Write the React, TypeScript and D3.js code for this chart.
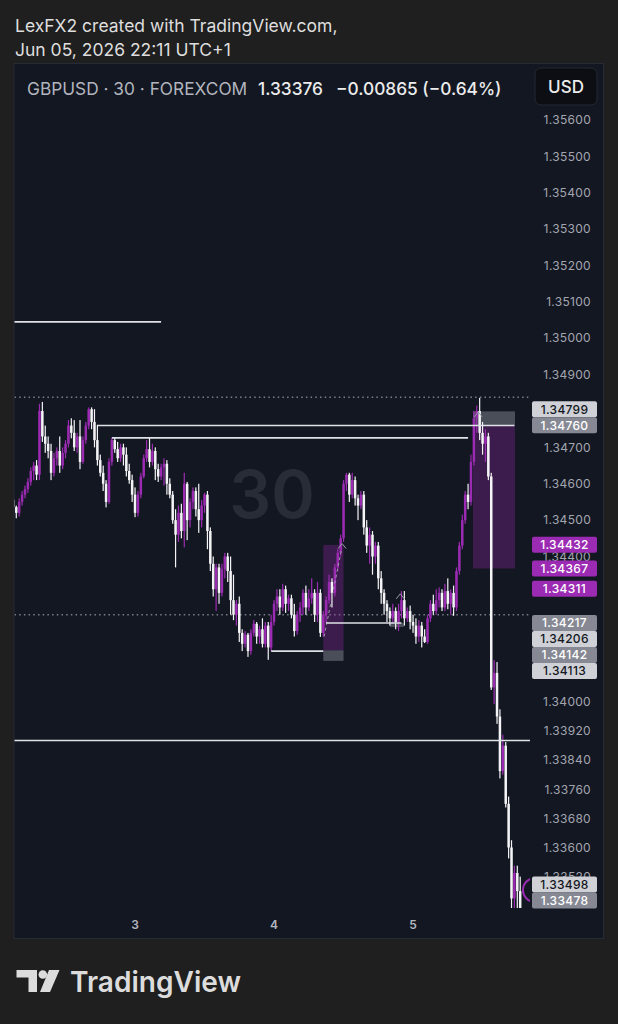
import React from "react";
import * as d3 from "d3";

// GBPUSD 30m candles, Jun 2 03:00 -> Jun 5 18:30
const opens = [
  1.34556,1.34536,1.34520,1.34550,1.34570,1.34585,1.34605,1.34635,1.34650,1.34625,
  1.34800,1.34730,1.34710,1.34690,1.34630,1.34670,1.34690,1.34650,1.34685,1.34710,
  1.34760,1.34740,1.34700,1.34730,1.34660,1.34720,1.34760,1.34805,1.34770,1.34720,
  1.34665,1.34630,1.34600,1.34550,1.34660,1.34720,1.34695,1.34670,1.34700,1.34680,
  1.34635,1.34610,1.34570,1.34520,1.34570,1.34620,1.34670,1.34695,1.34660,1.34690,
  1.34640,1.34620,1.34645,1.34655,1.34600,1.34570,1.34500,1.34460,1.34520,1.34470,
  1.34600,1.34500,1.34550,1.34580,1.34530,1.34500,1.34540,1.34570,1.34470,1.34380,
  1.34310,1.34370,1.34300,1.34365,1.34400,1.34360,1.34280,1.34240,1.34270,1.34190,
  1.34160,1.34185,1.34140,1.34190,1.34215,1.34180,1.34200,1.34160,1.34210,1.34150,
  1.34220,1.34270,1.34290,1.34260,1.34310,1.34270,1.34285,1.34240,1.34195,1.34240,
  1.34260,1.34300,1.34260,1.34285,1.34300,1.34240,1.34300,1.34190,1.34240,1.34280,
  1.34330,1.34300,1.34370,1.34410,1.34450,1.34600,1.34625,1.34570,1.34610,1.34560,
  1.34540,1.34570,1.34480,1.34430,1.34460,1.34400,1.34430,1.34340,1.34300,1.34270,
  1.34250,1.34230,1.34250,1.34220,1.34250,1.34280,1.34230,1.34250,1.34220,1.34210,
  1.34180,1.34210,1.34180,1.34165,1.34230,1.34270,1.34250,1.34280,1.34300,1.34260,
  1.34305,1.34270,1.34300,1.34260,1.34360,1.34430,1.34500,1.34570,1.34550,1.34660,
  1.34780,1.34800,1.34740,1.34710,1.34730,1.34620,1.34040,1.34080,1.33960,1.33810,
  1.33880,1.33720,1.33600,1.33460,1.33530,1.33480,
];
const highs = [
  1.34565,1.34540,1.34560,1.34580,1.34595,1.34615,1.34645,1.34660,1.34665,1.34820,
  1.34825,1.34760,1.34730,1.34710,1.34685,1.34700,1.34730,1.34700,1.34720,1.34775,
  1.34780,1.34775,1.34740,1.34775,1.34730,1.34770,1.34810,1.34810,1.34805,1.34762,
  1.34680,1.34650,1.34610,1.34670,1.34726,1.34726,1.34715,1.34710,1.34710,1.34700,
  1.34655,1.34625,1.34590,1.34580,1.34630,1.34680,1.34720,1.34726,1.34710,1.34700,
  1.34655,1.34655,1.34670,1.34665,1.34615,1.34580,1.34530,1.34540,1.34545,1.34630,
  1.34605,1.34560,1.34590,1.34590,1.34600,1.34555,1.34575,1.34580,1.34480,1.34400,
  1.34380,1.34380,1.34380,1.34410,1.34410,1.34400,1.34350,1.34280,1.34290,1.34200,
  1.34195,1.34190,1.34200,1.34225,1.34220,1.34210,1.34230,1.34220,1.34220,1.34240,
  1.34280,1.34310,1.34310,1.34325,1.34320,1.34295,1.34295,1.34270,1.34250,1.34275,
  1.34310,1.34320,1.34310,1.34340,1.34310,1.34330,1.34310,1.34250,1.34290,1.34350,
  1.34340,1.34380,1.34420,1.34460,1.34610,1.34630,1.34630,1.34630,1.34620,1.34570,
  1.34580,1.34580,1.34500,1.34480,1.34470,1.34440,1.34440,1.34360,1.34310,1.34280,
  1.34260,1.34270,1.34260,1.34270,1.34305,1.34305,1.34260,1.34265,1.34240,1.34230,
  1.34225,1.34220,1.34200,1.34240,1.34280,1.34295,1.34310,1.34315,1.34310,1.34325,
  1.34340,1.34310,1.34320,1.34370,1.34440,1.34515,1.34580,1.34600,1.34680,1.34800,
  1.34815,1.34836,1.34770,1.34750,1.34740,1.34630,1.34115,1.34110,1.33980,1.33910,
  1.33890,1.33740,1.33620,1.33550,1.33550,1.33520,
];
const lows = [
  1.34525,1.34505,1.34510,1.34540,1.34560,1.34575,1.34595,1.34610,1.34610,1.34610,
  1.34715,1.34685,1.34670,1.34610,1.34620,1.34650,1.34630,1.34640,1.34670,1.34700,
  1.34725,1.34690,1.34685,1.34640,1.34655,1.34710,1.34750,1.34750,1.34700,1.34650,
  1.34620,1.34580,1.34535,1.34545,1.34650,1.34685,1.34660,1.34660,1.34650,1.34620,
  1.34600,1.34550,1.34508,1.34510,1.34560,1.34615,1.34660,1.34645,1.34650,1.34610,
  1.34605,1.34610,1.34595,1.34570,1.34560,1.34490,1.34370,1.34440,1.34450,1.34425,
  1.34445,1.34480,1.34530,1.34510,1.34465,1.34480,1.34520,1.34420,1.34360,1.34290,
  1.34250,1.34270,1.34290,1.34340,1.34330,1.34240,1.34225,1.34210,1.34165,1.34140,
  1.34150,1.34124,1.34130,1.34180,1.34160,1.34160,1.34150,1.34150,1.34116,1.34140,
  1.34210,1.34250,1.34240,1.34250,1.34245,1.34250,1.34230,1.34180,1.34185,1.34220,
  1.34240,1.34240,1.34250,1.34270,1.34220,1.34220,1.34179,1.34180,1.34217,1.34270,
  1.34260,1.34290,1.34360,1.34400,1.34440,1.34580,1.34550,1.34560,1.34540,1.34500,
  1.34530,1.34460,1.34410,1.34380,1.34350,1.34380,1.34310,1.34270,1.34240,1.34220,
  1.34210,1.34217,1.34200,1.34195,1.34230,1.34210,1.34220,1.34200,1.34190,1.34160,
  1.34165,1.34150,1.34162,1.34160,1.34220,1.34240,1.34240,1.34260,1.34250,1.34250,
  1.34255,1.34240,1.34237,1.34250,1.34350,1.34420,1.34490,1.34530,1.34540,1.34650,
  1.34740,1.34720,1.34680,1.34660,1.34610,1.34033,1.33994,1.33940,1.33790,1.33800,
  1.33710,1.33570,1.33380,1.33400,1.33380,1.33360,
];
const closes = [
  1.34536,1.34520,1.34550,1.34570,1.34585,1.34605,1.34635,1.34650,1.34625,1.34800,
  1.34730,1.34710,1.34690,1.34630,1.34670,1.34690,1.34650,1.34685,1.34710,1.34760,
  1.34740,1.34700,1.34730,1.34660,1.34720,1.34760,1.34805,1.34770,1.34720,1.34665,
  1.34630,1.34600,1.34550,1.34660,1.34720,1.34695,1.34670,1.34700,1.34680,1.34635,
  1.34610,1.34570,1.34520,1.34570,1.34620,1.34670,1.34695,1.34660,1.34690,1.34640,
  1.34620,1.34645,1.34655,1.34600,1.34570,1.34500,1.34460,1.34520,1.34470,1.34600,
  1.34500,1.34550,1.34580,1.34530,1.34500,1.34540,1.34570,1.34470,1.34380,1.34310,
  1.34370,1.34300,1.34365,1.34400,1.34360,1.34280,1.34240,1.34270,1.34190,1.34160,
  1.34185,1.34140,1.34190,1.34215,1.34180,1.34200,1.34160,1.34210,1.34150,1.34220,
  1.34270,1.34290,1.34260,1.34310,1.34270,1.34285,1.34240,1.34195,1.34240,1.34260,
  1.34300,1.34260,1.34285,1.34300,1.34240,1.34300,1.34190,1.34240,1.34280,1.34330,
  1.34300,1.34370,1.34410,1.34450,1.34600,1.34625,1.34570,1.34610,1.34560,1.34540,
  1.34570,1.34480,1.34430,1.34460,1.34400,1.34430,1.34340,1.34300,1.34270,1.34250,
  1.34230,1.34250,1.34220,1.34250,1.34280,1.34230,1.34250,1.34220,1.34210,1.34180,
  1.34210,1.34180,1.34165,1.34230,1.34270,1.34250,1.34280,1.34300,1.34260,1.34305,
  1.34270,1.34300,1.34260,1.34360,1.34430,1.34500,1.34570,1.34550,1.34660,1.34780,
  1.34800,1.34740,1.34710,1.34730,1.34620,1.34040,1.34080,1.33960,1.33810,1.33880,
  1.33720,1.33600,1.33460,1.33530,1.33480,1.33376,
];

const priceTicks = [
  1.356, 1.355, 1.354, 1.353, 1.352, 1.351, 1.35, 1.349, 1.347, 1.346, 1.345, 1.344,
  1.34, 1.3392, 1.3384, 1.3376, 1.3368, 1.336, 1.3352,
];
const dayLabels = ["3", "4", "5"];
const dayDates = [new Date(2026, 5, 3), new Date(2026, 5, 4), new Date(2026, 5, 5)];

// price tags on the right scale
const tagPrices = [1.34799, 1.3476, 1.34432, 1.34367, 1.34311, 1.34217, 1.34206, 1.34142, 1.34113, 1.33498, 1.33478];
const tagKinds = ["light", "gray", "purple", "purple", "purple", "gray", "light", "gray", "light", "light", "gray"];

// horizontal rays (price, from bar, to bar)
const rayPrices = [1.35045, 1.3476, 1.34726, 1.33894, 1.3414, 1.34217];
const rayFrom = [0, 29, 34, 0, 89, 108];
const rayTo = [51, 173, 157, 178.4, 107, 134];
const dottedPrices = [1.34838, 1.3424];

// position tools: entry / stop / target
const posFrom = [107, 158.7, 130];
const posTo = [114, 173.2, 134.8];
const posEntry = [1.34142, 1.3476, 1.34217];
const posStop = [1.34113, 1.34799, 1.34206];
const posTarget = [1.34432, 1.34367, 1.34217];

const PURPLE = "#9c2bb3";
const WHITE = "#f4f4f6";
const FONT = "Inter, 'Noto Sans', sans-serif";
const t0 = new Date(2026, 5, 2, 3, 0).getTime();
const barTime = (i: number) => new Date(t0 + i * 30 * 60000);

const tagStyle: Record<string, { bg: string; fg: string }> = {
  light: { bg: "#cfd1d6", fg: "#131722" },
  gray: { bg: "#868993", fg: "#ffffff" },
  purple: { bg: PURPLE, fg: "#ffffff" },
};

export default function App() {
  const pane = { left: 14.5, right: 530, top: 63.5, bottom: 908 };
  const x = d3.scaleTime().domain([barTime(0), barTime(175)]).range([13.4, 520.2]);
  const y = d3.scaleLinear().domain([1.34, 1.356]).range([702, 120]);

  // stack tags so they don't overlap
  const order = d3.range(tagPrices.length).sort((a, b) => tagPrices[b] - tagPrices[a]);
  const tagY: number[] = [];
  let prev = -Infinity;
  order.forEach((k) => {
    let yy = y(tagPrices[k]);
    if (yy < prev + 16) yy = prev + 16;
    tagY[k] = yy;
    prev = yy;
  });
  // top pair sits a little higher in TradingView
  tagY[0] -= 2;
  tagY[1] -= 2;

  const chevron = (i: number, p: number) => {
    const cx = x(barTime(i));
    const cy = y(p);
    return `M${cx - 4},${cy + 3}L${cx},${cy - 2}L${cx + 4},${cy + 3}`;
  };

  return (
    <svg width={618} height={1024} style={{ position: "absolute", left: 0, top: 0 }} fontFamily={FONT}>
      <rect width={618} height={1024} fill="#1f1f1f" />
      <text x={15} y={32} fontSize={17.5} fill="#dedede">LexFX2 created with TradingView.com,</text>
      <text x={15} y={56} fontSize={17.5} fill="#dedede">Jun 05, 2026 22:11 UTC+1</text>

      <rect x={14} y={63.5} width={589.5} height={875} fill="#131722" stroke="#272b35" strokeWidth={1} />

      <defs>
        <clipPath id="pane">
          <rect x={pane.left} y={pane.top} width={pane.right - pane.left} height={pane.bottom - pane.top} />
        </clipPath>
      </defs>

      <text x={272} y={518} fontSize={66} fontWeight={600} fill="#282c37" textAnchor="middle">30</text>

      <g clipPath="url(#pane)">
        {dottedPrices.map((p, k) => (
          <line key={k} x1={pane.left} x2={pane.right} y1={y(p)} y2={y(p)} stroke="#7c7f8a" strokeWidth={1.4} strokeDasharray="1.5 3.2" />
        ))}
        {posFrom.map((f, k) => {
          const x1 = x(barTime(f));
          const x2 = x(barTime(posTo[k]));
          return (
            <g key={k}>
              <rect x={x1} width={x2 - x1} y={Math.min(y(posEntry[k]), y(posTarget[k]))} height={Math.abs(y(posEntry[k]) - y(posTarget[k]))} fill="#9c27b0" fillOpacity={0.3} />
              <rect x={x1} width={x2 - x1} y={Math.min(y(posEntry[k]), y(posStop[k]))} height={Math.abs(y(posEntry[k]) - y(posStop[k]))} fill="#787b86" fillOpacity={0.55} />
            </g>
          );
        })}
        {opens.map((o, i) => {
          const c = closes[i];
          const col = c >= o ? PURPLE : WHITE;
          const cx = x(barTime(i));
          const yt = y(Math.max(o, c));
          const yb = y(Math.min(o, c));
          return (
            <g key={i}>
              <rect x={cx - 0.6} y={y(highs[i])} width={1.2} height={y(lows[i]) - y(highs[i])} fill={col} />
              <rect x={cx - 1.25} y={yt} width={2.5} height={Math.max(1, yb - yt)} fill={col} />
            </g>
          );
        })}
        <path d={`M${x(barTime(107.3))},${y(1.3418)}L${x(barTime(113.3))},${y(1.3442)}`} stroke="#9a9da6" strokeWidth={1} strokeDasharray="3 3" fill="none" />
        <path d={chevron(113.5, 1.3443)} stroke="#9a9da6" strokeWidth={1} fill="none" />
        <path d={chevron(133.6, 1.34292)} stroke="#9a9da6" strokeWidth={1} fill="none" />
        <path d={chevron(160.5, 1.34792)} stroke="#9a9da6" strokeWidth={1} fill="none" />
        {rayPrices.map((p, k) => (
          <line key={k} x1={x(barTime(rayFrom[k]))} x2={x(barTime(rayTo[k]))} y1={y(p)} y2={y(p)} stroke="#dfe1e6" strokeWidth={1.6} />
        ))}
        <circle cx={535} cy={890} r={12} fill="none" stroke={PURPLE} strokeWidth={2} />
      </g>

      {priceTicks.map((p) => (
        <text key={p} x={591} y={y(p) + 4.2} fontSize={12} fill="#a3a6af" textAnchor="end" letterSpacing={0.3}>
          {p.toFixed(5)}
        </text>
      ))}
      {tagPrices.map((p, k) => (
        <g key={k}>
          <rect x={532} y={tagY[k] - 8} width={65} height={16} rx={2} fill={tagStyle[tagKinds[k]].bg} />
          <text x={564.5} y={tagY[k] + 4.3} fontSize={12} fontWeight={500} fill={tagStyle[tagKinds[k]].fg} textAnchor="middle" letterSpacing={0.3}>
            {p.toFixed(5)}
          </text>
        </g>
      ))}

      {dayDates.map((d, k) => (
        <text key={k} x={x(d)} y={929} fontSize={12} fontWeight={600} fill="#b2b5be" textAnchor="middle">{dayLabels[k]}</text>
      ))}

      <text x={27} y={94.5} fontSize={17.3} fill="#b2b5be">GBPUSD · 30 · FOREXCOM</text>
      <text x={258} y={94.5} fontSize={17.3} fontWeight={500} fill="#ececec">1.33376</text>
      <text x={336} y={94.5} fontSize={17.3} fontWeight={500} fill="#ececec">−0.00865 (−0.64%)</text>
      <rect x={535} y={68} width={62} height={37} rx={6} fill="#0c0e13" stroke="#252932" />
      <text x={566} y={93} fontSize={17} fontWeight={500} fill="#ececec" textAnchor="middle">USD</text>

      <g fill="#dcdcdc">
        <path d="M16.5,970H37V992H28.5V977.5H16.5Z" />
        <circle cx={42.8} cy={974.5} r={4.3} />
        <path d="M49,970H59.5L50,992H40Z" />
        <text x={70} y={991.7} fontSize={29} fontWeight={600} textLength={171} lengthAdjust="spacingAndGlyphs">TradingView</text>
      </g>
    </svg>
  );
}
